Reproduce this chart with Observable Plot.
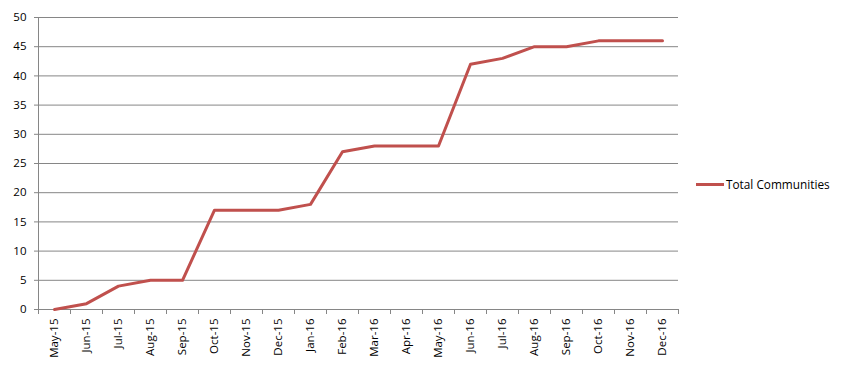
<!DOCTYPE html>
<html>
<head>
<meta charset="utf-8">
<script src="https://cdn.jsdelivr.net/npm/d3@7"></script>
<script src="https://cdn.jsdelivr.net/npm/@observablehq/plot@0.6"></script>
<style>
  html, body { margin: 0; padding: 0; background: #fff; }
  #chart { position: relative; width: 842px; height: 371px; font-family: "Open Sans", "Liberation Sans", sans-serif; }
  #legend { position: absolute; left: 696px; top: 176px; display: flex; align-items: center; font-size: 11.8px; color: #000; }
  #legend .sw { width: 28px; height: 3px; background: #C0504D; margin-right: 2px; }
</style>
</head>
<body>
<div id="chart"><div id="legend"><div class="sw"></div><span>Total Communities</span></div></div>
<script>
const months = ["May-15","Jun-15","Jul-15","Aug-15","Sep-15","Oct-15","Nov-15","Dec-15","Jan-16","Feb-16","Mar-16","Apr-16","May-16","Jun-16","Jul-16","Aug-16","Sep-16","Oct-16","Nov-16","Dec-16"];
const totalCommunities = [0,1,4,5,5,17,17,17,18,27,28,28,28,42,43,45,45,46,46,46];
const seriesName = "Total Communities";
const yTicks = [0,5,10,15,20,25,30,35,40,45,50];

const data = months.map((m, i) => ({i, month: m, value: totalCommunities[i]}));
const idx = months.map((_, i) => i);
const bounds = [...idx.map(i => i - 0.5), months.length - 0.5];

const gridColor = "#868686";
const plot = Plot.plot({
  width: 842,
  height: 371,
  marginLeft: 38,
  marginRight: 164,
  marginTop: 17,
  marginBottom: 62,
  style: {fontFamily: "'Open Sans', 'Liberation Sans', sans-serif", fontSize: "11.5px", color: "#000", background: "transparent"},
  x: {type: "linear", domain: [-0.5, months.length - 0.5]},
  y: {domain: [0, 50]},
  marks: [
    Plot.ruleY(yTicks.filter(d => d > 0), {stroke: gridColor, strokeWidth: 1, strokeOpacity: 1}),
    Plot.ruleX([-0.5], {y1: 0, y2: 50, stroke: gridColor}),
    Plot.ruleY([0], {stroke: gridColor}),
    Plot.axisY({ticks: yTicks, tickSize: 4, tickPadding: 8, label: null, stroke: gridColor, fill: "#000"}),
    Plot.axisX({ticks: bounds, tickSize: 5, tickFormat: () => "", label: null, stroke: gridColor}),
    Plot.axisX({ticks: idx, tickSize: 0, tickPadding: 9, tickRotate: -90, tickFormat: i => months[i], label: null, fill: "#000"}),
    Plot.line(data, {x: "i", y: "value", stroke: "#C0504D", strokeWidth: 3, strokeLinejoin: "round", strokeLinecap: "round"})
  ]
});
document.getElementById("chart").prepend(plot);
plot.style.position = "absolute";
plot.style.left = "0";
plot.style.top = "0";
</script>
</body>
</html>
